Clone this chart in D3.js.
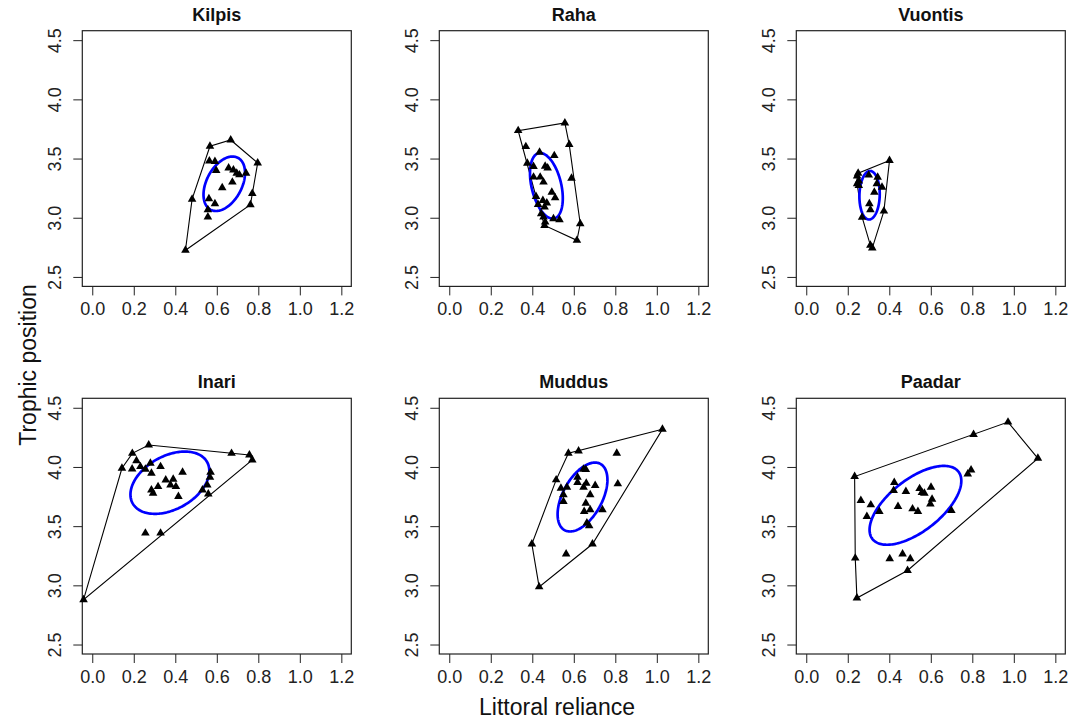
<!DOCTYPE html>
<html>
<head>
<meta charset="utf-8">
<script src="https://cdn.jsdelivr.net/npm/d3@7"></script>
<style>
  body { margin: 0; background: #fff; }
  svg { font-family: "Liberation Sans", Arial, sans-serif; }
  .tick text { font-size: 18px; fill: #222; }
  .tick line { stroke: #222; }
</style>
</head>
<body>
<script>
const lakes = ["Kilpis", "Raha", "Vuontis", "Inari", "Muddus", "Paadar"];

const xTicks = [0, 0.2, 0.4, 0.6, 0.8, 1.0, 1.2];
const yTicks = [2.5, 3.0, 3.5, 4.0, 4.5];

// littoral reliance (LR) and trophic position (TP) per lake
const kilpisLR = [0.449, 0.481, 0.567, 0.667, 0.797, 0.771, 0.762, 0.564, 0.591, 0.597, 0.657, 0.680, 0.696, 0.709, 0.741, 0.675, 0.626, 0.562, 0.591, 0.557, 0.557];
const kilpisTP = [2.725, 3.157, 3.604, 3.657, 3.463, 3.205, 3.110, 3.480, 3.475, 3.399, 3.421, 3.404, 3.376, 3.362, 3.376, 3.301, 3.253, 3.160, 3.118, 3.067, 3.006];

const rahaLR = [0.332, 0.557, 0.578, 0.589, 0.631, 0.615, 0.459, 0.369, 0.376, 0.435, 0.506, 0.406, 0.462, 0.474, 0.406, 0.438, 0.454, 0.494, 0.510, 0.418, 0.451, 0.470, 0.459, 0.428, 0.443, 0.454, 0.502, 0.531, 0.462];
const rahaTP = [3.736, 3.801, 3.618, 3.334, 2.949, 2.809, 2.935, 3.601, 3.461, 3.553, 3.525, 3.433, 3.435, 3.421, 3.343, 3.343, 3.301, 3.216, 3.169, 3.180, 3.146, 3.124, 3.090, 3.112, 3.034, 3.006, 2.992, 2.983, 2.963];

const vuontisLR = [0.250, 0.401, 0.374, 0.318, 0.309, 0.269, 0.245, 0.245, 0.253, 0.301, 0.344, 0.340, 0.365, 0.328, 0.304, 0.309, 0.253];
const vuontisTP = [3.376, 3.483, 3.056, 2.744, 2.767, 3.005, 3.287, 3.353, 3.310, 3.360, 3.342, 3.287, 3.258, 3.216, 3.118, 3.068, 3.273];

const inariLR = [-0.042, 0.143, 0.193, 0.272, 0.671, 0.757, 0.771, 0.192, 0.213, 0.232, 0.256, 0.280, 0.285, 0.329, 0.435, 0.317, 0.354, 0.390, 0.377, 0.403, 0.415, 0.285, 0.293, 0.570, 0.567, 0.554, 0.559, 0.531, 0.256, 0.329];
const inariTP = [2.879, 3.989, 4.115, 4.185, 4.115, 4.101, 4.059, 3.983, 4.053, 4.003, 3.980, 4.031, 3.947, 4.003, 3.955, 3.834, 3.890, 3.896, 3.848, 3.834, 3.750, 3.806, 3.778, 3.955, 3.913, 3.848, 3.772, 3.806, 3.441, 3.441];

const muddusLR = [0.433, 0.398, 0.515, 0.574, 0.623, 1.027, 0.690, 0.807, 0.812, 0.647, 0.658, 0.618, 0.618, 0.660, 0.647, 0.703, 0.538, 0.567, 0.550, 0.550, 0.679, 0.658, 0.650, 0.679, 0.738, 0.663, 0.674, 0.563];
const muddusTP = [2.987, 3.349, 3.891, 4.116, 4.135, 4.318, 3.349, 4.116, 3.857, 3.981, 3.978, 3.913, 3.868, 3.863, 3.829, 3.843, 3.821, 3.829, 3.765, 3.708, 3.765, 3.694, 3.624, 3.638, 3.638, 3.526, 3.503, 3.265];

const paadarLR = [0.244, 0.233, 0.806, 0.972, 1.116, 0.488, 0.236, 0.263, 0.311, 0.292, 0.352, 0.424, 0.421, 0.480, 0.442, 0.546, 0.557, 0.569, 0.601, 0.606, 0.598, 0.512, 0.538, 0.699, 0.778, 0.794, 0.402, 0.464, 0.501];
const paadarTP = [2.893, 3.919, 4.275, 4.379, 4.073, 3.126, 3.230, 3.716, 3.680, 3.581, 3.624, 3.868, 3.801, 3.792, 3.666, 3.817, 3.784, 3.778, 3.829, 3.728, 3.688, 3.646, 3.624, 3.632, 3.941, 3.975, 3.225, 3.264, 3.225];

// standard ellipse per lake: centre, sd in each direction, correlation
const ellipseCX  = [0.636, 0.468, 0.305, 0.374, 0.642, 0.526];
const ellipseCY  = [3.287, 3.270, 3.190, 3.867, 3.746, 3.676];
const ellipseSX  = [0.100, 0.079, 0.049, 0.190, 0.120, 0.221];
const ellipseSY  = [0.230, 0.277, 0.205, 0.263, 0.291, 0.333];
const ellipseRho = [0.40, -0.38, 0.05, 0.38, 0.50, 0.62];

const lakeLR = [kilpisLR, rahaLR, vuontisLR, inariLR, muddusLR, paadarLR];
const lakeTP = [kilpisTP, rahaTP, vuontisTP, inariTP, muddusTP, paadarTP];

const width = 1085, height = 721;
const colLeft = [82.3, 439.3, 796.3], rowTop = [30.7, 398.3];
const pw = 269, ph = 255.7;

const svg = d3.select("body").append("svg")
    .attr("width", width)
    .attr("height", height);

svg.append("rect").attr("width", width).attr("height", height).attr("fill", "#fff");

const tri = d3.symbol().type(d3.symbolTriangle).size(32);

lakes.forEach((lake, i) => {
  const left = colLeft[i % 3], top = rowTop[Math.floor(i / 3)];

  const x = d3.scaleLinear().domain([-0.048, 1.248]).range([left, left + pw]);
  const y = d3.scaleLinear().domain([2.42, 4.58]).range([top + ph, top]);

  const g = svg.append("g").attr("class", "panel");

  // x axis
  const gx = g.append("g")
      .attr("transform", "translate(0," + (top + ph) + ")")
      .call(d3.axisBottom(x).tickValues(xTicks).tickSize(9).tickPadding(7).tickFormat(d3.format(".1f")));
  gx.select(".domain").remove();
  gx.selectAll("text").attr("fill", "#222");

  // y axis, labels parallel to the axis
  const gy = g.append("g")
      .attr("transform", "translate(" + left + ",0)")
      .call(d3.axisLeft(y).tickValues(yTicks).tickSize(9).tickFormat(d3.format(".1f")));
  gy.select(".domain").remove();
  gy.selectAll("text")
      .attr("fill", "#222")
      .attr("x", 0)
      .attr("dy", 0)
      .attr("y", -21)
      .attr("text-anchor", "middle")
      .attr("transform", "rotate(-90)");

  g.append("rect")
      .attr("x", left)
      .attr("y", top)
      .attr("width", pw)
      .attr("height", ph)
      .attr("fill", "none")
      .attr("stroke", "#222")
      .attr("stroke-width", 1.2);

  g.append("text")
      .attr("x", left + pw / 2)
      .attr("y", top - 10)
      .attr("text-anchor", "middle")
      .attr("font-weight", "bold")
      .attr("font-size", 18)
      .attr("fill", "#111")
      .text(lake);

  const pts = lakeLR[i].map((v, k) => [x(v), y(lakeTP[i][k])]);

  // convex hull
  const hull = d3.polygonHull(pts);
  g.append("path")
      .attr("d", d3.line().curve(d3.curveLinearClosed)(hull))
      .attr("fill", "none")
      .attr("stroke", "#000")
      .attr("stroke-width", 1.1);

  // standard ellipse
  const cx = ellipseCX[i], cy = ellipseCY[i], sx = ellipseSX[i], sy = ellipseSY[i], r = ellipseRho[i];
  const ell = d3.range(0, 2 * Math.PI, Math.PI / 90).map(t => [
    x(cx + sx * Math.cos(t)),
    y(cy + sy * (r * Math.cos(t) + Math.sqrt(1 - r * r) * Math.sin(t)))
  ]);
  g.append("path")
      .attr("d", d3.line().curve(d3.curveLinearClosed)(ell))
      .attr("fill", "none")
      .attr("stroke", "#0000ff")
      .attr("stroke-width", 2.7);

  g.selectAll(".pt")
    .data(pts)
    .enter().append("path")
      .attr("class", "pt")
      .attr("transform", d => "translate(" + d[0] + "," + d[1] + ")")
      .attr("d", tri)
      .attr("fill", "#000");
});

svg.append("text")
    .attr("x", 557)
    .attr("y", 715)
    .attr("text-anchor", "middle")
    .attr("font-size", 23)
    .attr("fill", "#111")
    .text("Littoral reliance");

svg.append("text")
    .attr("transform", "translate(36,365) rotate(-90)")
    .attr("text-anchor", "middle")
    .attr("font-size", 23)
    .attr("fill", "#111")
    .text("Trophic position");
</script>
</body>
</html>
